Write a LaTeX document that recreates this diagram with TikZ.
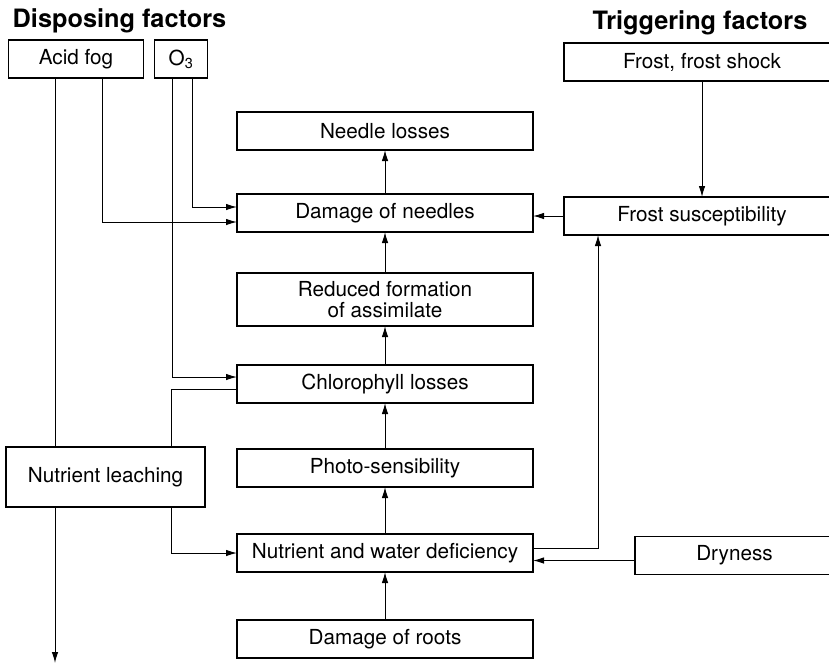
\documentclass[tikz,border=0pt]{standalone}
\usepackage{fontspec}
\setmainfont{TeX Gyre Heros}
\usetikzlibrary{positioning}
\usetikzlibrary{arrows.meta}

\begin{document}
\begin{tikzpicture}[x=1pt, y=-1pt,
    >={Latex[length=11pt,width=6.5pt]},
    factorbox/.style={rectangle, draw, line width=1.6pt, outer sep=0pt, minimum height=38pt, inner sep=2pt, font=\fontsize{20.7}{21.5}\selectfont, align=center},
    chainbox/.style={factorbox, minimum width=296pt},
    sidebox/.style={factorbox, minimum width=276pt},
    heading/.style={font=\fontsize{25.3}{27}\selectfont\bfseries, anchor=base},
    link/.style={line width=1pt},
    ]
    \useasboundingbox (0,0) rectangle (829,667);

    % headings
    \node[heading] (disposing) at (119.5,27) {Disposing factors};
    \node[heading] (triggering) at (700,29) {Triggering factors};

    % disposing factors
    \node[factorbox, minimum width=135pt] (acidfog) at (76,59) {Acid fog};
    \node[factorbox, minimum width=53pt, right=11pt of acidfog] (ozone) {O\textsubscript{3}};
    \node[factorbox, minimum width=199pt, minimum height=60pt] (leaching) at (105.5,477) {Nutrient leaching};

    % main chain, bottom to top
    \node[chainbox] (needlelosses) at (385,131) {Needle losses};
    \node[chainbox, below=44pt of needlelosses] (needledamage) {Damage of needles};
    \node[chainbox, below=41pt of needledamage, minimum height=53pt] (assimilate) {Reduced formation\\of assimilate};
    \node[chainbox, below=39pt of assimilate] (chlorophyll) {Chlorophyll losses};
    \node[chainbox, below=46pt of chlorophyll] (photo) {Photo-sensibility};
    \node[chainbox, below=47pt of photo] (deficiency) {Nutrient and water deficiency};
    \node[chainbox, below=48pt of deficiency] (rootdamage) {Damage of roots};

    % triggering factors
    \node[sidebox] (frostshock) at (702,62) {Frost, frost shock};
    \node[sidebox] (frostsus) at (702,216) {Frost susceptibility};
    \node[factorbox, minimum width=199pt] (dryness) at (734.5,555.5) {Dryness};

    \coordinate (fogline) at (55,0);
    \coordinate (leachout) at (55,663);
    \coordinate (dryline) at ([yshift=-5pt]dryness.west);

    % arrows up the chain
    \draw[link, ->] (rootdamage) -- (deficiency);
    \draw[link, ->] (deficiency) -- (photo);
    \draw[link, ->] (photo) -- (chlorophyll);
    \draw[link, ->] (chlorophyll) -- (assimilate);
    \draw[link, ->] (assimilate) -- (needledamage);
    \draw[link, ->] (needledamage) -- (needlelosses);

    % left side
    \draw[link] (acidfog.south -| fogline) -- (leaching.north -| fogline);
    \draw[link, ->] (leaching.south -| fogline) -- (leachout);
    \draw[link, ->] ([xshift=94pt]acidfog.south west) |- ([yshift=-9pt]needledamage.west);
    \draw[link, ->] ([xshift=38pt]ozone.south west) |- ([yshift=6pt]needledamage.west);
    \draw[link, ->] ([xshift=18pt]ozone.south west) |- ([yshift=7pt]chlorophyll.west);
    \draw[link] ([yshift=-5pt]chlorophyll.west) -| ([xshift=-34pt]leaching.north east);
    \draw[link, ->] ([xshift=-34pt]leaching.south east) |- (deficiency.west);

    % right side
    \draw[link, ->] (frostshock) -- (frostsus);
    \draw[link, ->] (frostsus.west) -- (frostsus.west -| needledamage.east);
    \draw[link, ->] ([yshift=5pt]deficiency.east) -| ([xshift=34pt]frostsus.south west);
    \draw[link, ->] (dryline) -- (dryline -| deficiency.east);
\end{tikzpicture}
\end{document}
